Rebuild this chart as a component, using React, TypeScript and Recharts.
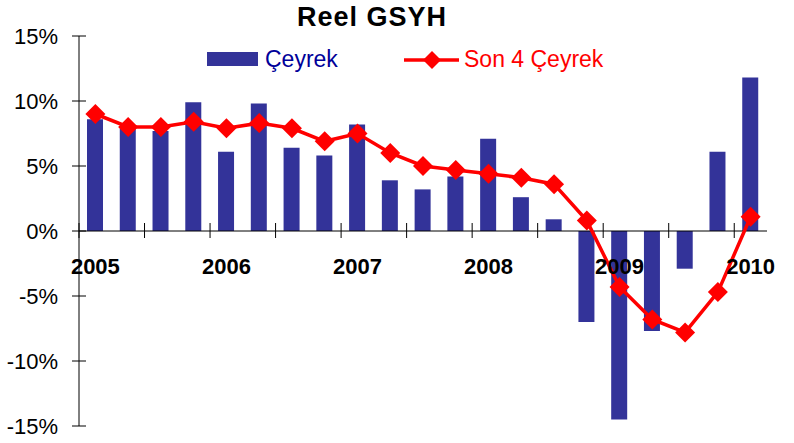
import { Bar, ComposedChart, Line, ReferenceLine, XAxis, YAxis } from "recharts";

const quarters = [
    "2005Q1", "2005Q2", "2005Q3", "2005Q4",
    "2006Q1", "2006Q2", "2006Q3", "2006Q4",
    "2007Q1", "2007Q2", "2007Q3", "2007Q4",
    "2008Q1", "2008Q2", "2008Q3", "2008Q4",
    "2009Q1", "2009Q2", "2009Q3", "2009Q4",
    "2010Q1",
];

// quarterly growth (bars)
const ceyrek = [
    8.6, 7.9, 7.7, 9.9,
    6.1, 9.8, 6.4, 5.8,
    8.2, 3.9, 3.2, 4.2,
    7.1, 2.6, 0.9, -7.0,
    -14.5, -7.7, -2.9, 6.1,
    11.8,
];

// four-quarter rolling growth (line)
const son4Ceyrek = [
    9.0, 8.0, 8.0, 8.4,
    7.9, 8.3, 7.9, 6.9,
    7.5, 6.0, 5.0, 4.7,
    4.4, 4.1, 3.6, 0.8,
    -4.3, -6.8, -7.8, -4.7,
    1.1,
];

const yTicks = [-15, -10, -5, 0, 5, 10, 15];

const data = quarters.map((q, i) => ({
    q,
    ceyrek: ceyrek[i],
    son4: son4Ceyrek[i],
}));

const W = 794;
const H = 443;
const M = { top: 36, right: 27, bottom: 0, left: 0 };
const Y_W = 79;
const X_H = 17;
const PLOT_W = W - M.left - M.right - Y_W;
const PLOT_H = H - M.top - M.bottom - X_H;
const BAND = PLOT_W / quarters.length;
const FONT = "Arial, 'Liberation Sans', sans-serif";

const YTick = (props: any) => {
    const { x, y, payload } = props;
    return (
        <g>
            <line x1={x - 7} x2={x + 7} y1={y} y2={y} stroke="#000" />
            <text x={x - 21} y={y} dy="0.36em" textAnchor="end" fontSize={22} fontFamily={FONT} fill="#000">
                {payload.value}%
            </text>
        </g>
    );
};

const XTick = (props: any) => {
    const { x, y, payload, index } = props;
    const zeroY = y - PLOT_H / 2;
    const label = String(payload.value);
    return (
        <g>
            {index % 2 === 0 && (
                <line x1={x - BAND / 2} x2={x - BAND / 2} y1={zeroY - 8} y2={zeroY + 7} stroke="#000" />
            )}
            {label.endsWith("Q1") && (
                <text x={x} y={zeroY + 43} textAnchor="middle" fontSize={22} fontWeight="bold" fontFamily={FONT} fill="#000">
                    {label.slice(0, 4)}
                </text>
            )}
        </g>
    );
};

const Diamond = (props: any) => {
    const { cx, cy } = props;
    if (cx == null || cy == null) return null;
    const r = 10;
    return <polygon points={`${cx},${cy - r} ${cx + r},${cy} ${cx},${cy + r} ${cx - r},${cy}`} fill="#FF0000" />;
};

const ChartLegend = () => (
    <svg width={W} height={30} style={{ position: "absolute", left: 0, top: 44 }}>
        <rect x={207} y={8} width={51} height={14} fill="#333399" />
        <text x={265} y={23} fontSize={23} fontFamily={FONT} fill="#000099">Çeyrek</text>
        <line x1={404} x2={459} y1={16} y2={16} stroke="#FF0000" strokeWidth={3.5} />
        <polygon points="432,7 441,16 432,25 423,16" fill="#FF0000" />
        <text x={464} y={23} fontSize={23} fontFamily={FONT} fill="#FF0000">Son 4 Çeyrek</text>
    </svg>
);

export default function App() {
    return (
        <div style={{ position: "absolute", left: 0, top: 0, width: W, height: H, background: "#fff" }}>
            <ComposedChart width={W} height={H} data={data} margin={M} barSize={16}>
                <XAxis dataKey="q" height={X_H} axisLine={false} tickLine={false} tickSize={0} tickMargin={0} interval={0} tick={<XTick />} />
                <YAxis width={Y_W} domain={[-15, 15]} ticks={yTicks} allowDataOverflow axisLine={{ stroke: "#000" }} tickLine={false} tickSize={0} tickMargin={0} tick={<YTick />} />
                <Bar dataKey="ceyrek" name="Çeyrek" fill="#333399" isAnimationActive={false} />
                <ReferenceLine y={0} stroke="#000" />
                <Line dataKey="son4" name="Son 4 Çeyrek" stroke="#FF0000" strokeWidth={3.5} dot={<Diamond />} activeDot={false} isAnimationActive={false} />
            </ComposedChart>
            <div style={{
                position: "absolute", left: 0, top: 0, width: 744, textAlign: "center",
                fontFamily: FONT, fontWeight: "bold", fontSize: 27, letterSpacing: 1, lineHeight: "34px", color: "#000",
            }}>
                Reel GSYH
            </div>
            <ChartLegend />
        </div>
    );
}
